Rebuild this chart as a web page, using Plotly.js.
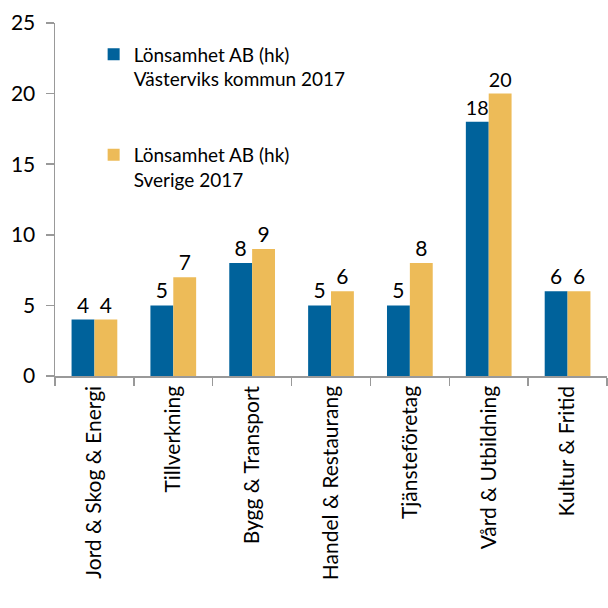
<!DOCTYPE html>
<html>
<head>
<meta charset="utf-8">
<script src="https://cdn.plot.ly/plotly-3.0.1.min.js"></script>
<style>html,body{margin:0;padding:0;background:#fff;}#chart{width:608px;height:608px;}</style>
</head>
<body>
<div id="chart"></div>
<script>
const categories = ["Jord & Skog & Energi","Tillverkning","Bygg & Transport","Handel & Restaurang","Tjänsteföretag","Vård & Utbildning","Kultur & Fritid"];
const vastervik = [4,5,8,5,5,18,6];
const sverige = [4,7,9,6,8,20,6];
const seriesNames = ["Lönsamhet AB (hk)<br>Västerviks kommun 2017","Lönsamhet AB (hk)<br>Sverige 2017"];
const yTicks = [0,5,10,15,20,25];

const FONT = "Lato, 'Open Sans', sans-serif";
const traces = [
  {type:"bar", x:categories, y:vastervik, name:seriesNames[0], marker:{color:"#00629b"},
   text:vastervik.map(String), textposition:"outside", cliponaxis:false,
   textfont:{size:21,color:"#000",family:FONT}, legend:"legend"},
  {type:"bar", x:categories, y:sverige, name:seriesNames[1], marker:{color:"#edbb58"},
   text:sverige.map(String), textposition:"outside", cliponaxis:false,
   textfont:{size:21,color:"#000",family:FONT}, legend:"legend2"}
];
const legendCommon = {bgcolor:"rgba(0,0,0,0)", font:{size:19,color:"#000",family:FONT}, valign:"top", xanchor:"left", yanchor:"top", itemwidth:30};
const layout = {
  width:608, height:608,
  margin:{l:55, r:1, t:23, b:232},
  paper_bgcolor:"#fff", plot_bgcolor:"#fff",
  font:{family:FONT, color:"#000"},
  barmode:"group", bargap:0.42, bargroupgap:0,
  showlegend:true,
  legend:Object.assign({x:0.07, y:0.965}, legendCommon),
  legend2:Object.assign({x:0.07, y:0.68}, legendCommon),
  xaxis:{type:"category", tickangle:-90, tickfont:{size:21,color:"#000",family:FONT},
    showline:true, linecolor:"#999", linewidth:1.5, ticks:"outside", tickson:"boundaries",
    ticklen:8, tickcolor:"#999", tickwidth:1.5, showgrid:false, zeroline:false},
  yaxis:{range:[0,25], tickvals:yTicks, ticktext:yTicks.map(String), tickfont:{size:21,color:"#000",family:FONT},
    ticklabelstandoff:6,
    showline:true, linecolor:"#999", linewidth:1.5, ticks:"outside", ticklen:8, tickcolor:"#999", tickwidth:1.5,
    showgrid:false, zeroline:false}
};
Plotly.newPlot("chart", traces, layout, {displayModeBar:false, staticPlot:true});
</script>
</body>
</html>
